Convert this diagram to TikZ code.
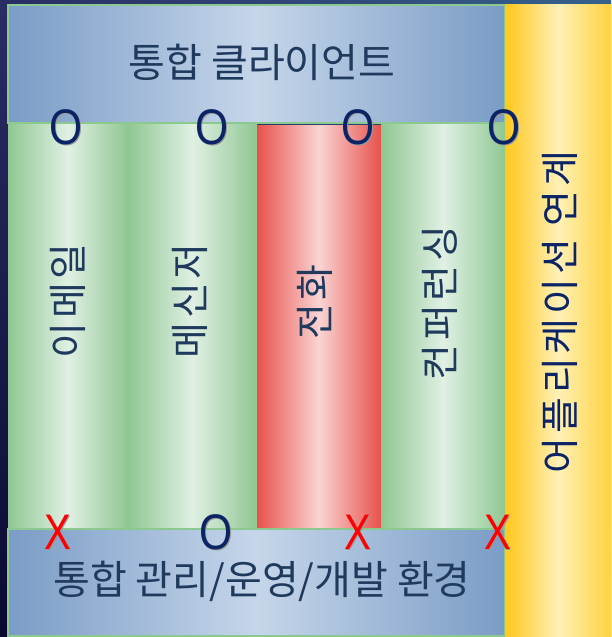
\documentclass[tikz,border=0pt]{standalone}
\usepackage{fontspec}
\setmainfont{Noto Sans CJK KR}
\newfontfamily\spacedfont[LetterSpace=10]{Noto Sans CJK KR}
\newfontfamily\markfont{Liberation Sans}
\usetikzlibrary{shadings}

\definecolor{boxblue}{HTML}{7A9CC6}
\definecolor{boxlight}{HTML}{C6D6EA}
\definecolor{colgreen}{HTML}{8FC792}
\definecolor{collight}{HTML}{E0F0E4}
\definecolor{colred}{HTML}{E8524B}
\definecolor{redlight}{HTML}{F9D4D4}
\definecolor{appyellow}{HTML}{FFC81C}
\definecolor{applight}{HTML}{FFF0B6}
\definecolor{appedge}{HTML}{FFD23E}
\definecolor{textnavy}{HTML}{1F3A5C}
\definecolor{marknavy}{HTML}{0B2466}
\definecolor{edgegreen}{HTML}{8CC98E}
\definecolor{seamolive}{HTML}{B4B87C}
\definecolor{bgul}{HTML}{2A2C64}
\definecolor{bgur}{HTML}{36628C}
\definecolor{bgll}{HTML}{0A0A30}
\definecolor{bglr}{HTML}{141E46}

% mark with a soft drop shadow
\newcommand{\shadowmark}[1]{\rlap{\hspace{1.5pt}\raisebox{-1.5pt}{\textcolor{black!40}{#1}}}#1}

\begin{document}
\begin{tikzpicture}[x=1pt, y=-1pt,
    layerbox/.style={left color=boxblue, right color=boxblue, middle color=boxlight,
                     draw=edgegreen, line width=1.5pt},
    greencol/.style={left color=colgreen, right color=colgreen, middle color=collight},
    redcol/.style={left color=colred, right color=colred, middle color=redlight},
    appcol/.style={left color=appyellow, right color=appedge, middle color=applight},
    title/.style={text=textnavy, inner sep=0, font=\fontsize{40}{40}\selectfont},
    coltitle/.style={title, rotate=90, font=\spacedfont\fontsize{39}{39}\selectfont},
    okmark/.style={text=marknavy, inner sep=0, xscale=0.85, font=\markfont\fontsize{50}{50}\selectfont},
    nomark/.style={text=red, inner sep=0, xscale=0.8, font=\markfont\fontsize{50}{50}\selectfont}]
    \useasboundingbox (0, 0) rectangle (611, 637);

    % background
    \shade[upper left=bgul, upper right=bgur, lower left=bgll, lower right=bglr]
      (0, 0) rectangle (611, 637);

    % service columns
    \shade[greencol] (8, 123) rectangle (128, 529);
    \shade[greencol] (128, 123) rectangle (257, 529);
    \shade[redcol]   (257, 125) rectangle (381, 529);
    \shade[greencol] (381, 123) rectangle (505, 529);
    \draw[seamolive, line width=1pt] (127.5, 130) -- (127.5, 508);
    \draw[seamolive, line width=1pt, opacity=0.6] (385.5, 130) -- (385.5, 510);

    % client and platform layers
    \shade[layerbox] (8, 5) rectangle (505, 123);
    \shade[layerbox] (8, 529) rectangle (505, 636);

    % application column
    \shade[appcol] (505, 4) rectangle (611, 637);

    \node[title] (client) at (262, 62) {통합 클라이언트};
    \node[title] (platform) at (262, 581) {통합 관리/운영/개발 환경};

    \node[coltitle] (email)   at (68, 301)  {이메일};
    \node[coltitle] (msgr)    at (190, 301) {메신저};
    \node[coltitle] (phone)   at (315, 302) {전화};
    \node[coltitle] (conf)    at (440, 303) {컨퍼런싱};
    \node[coltitle, text=marknavy] (appint) at (560, 312) {어플리케이션 연계};

    % top marks
    \node[okmark] (emailtop) at (66, 128) {\shadowmark{O}};
    \node[okmark] (msgrtop)  at (212, 128) {\shadowmark{O}};
    \node[okmark] (phonetop) at (358, 128) {\shadowmark{O}};
    \node[okmark] (conftop)  at (504, 128) {\shadowmark{O}};

    % bottom marks
    \node[nomark] (emailbot) at (58, 533) {\shadowmark{X}};
    \node[okmark] (msgrbot)  at (216, 533) {\shadowmark{O}};
    \node[nomark] (phonebot) at (358, 533) {\shadowmark{X}};
    \node[nomark] (confbot)  at (498, 533) {\shadowmark{X}};
\end{tikzpicture}
\end{document}
